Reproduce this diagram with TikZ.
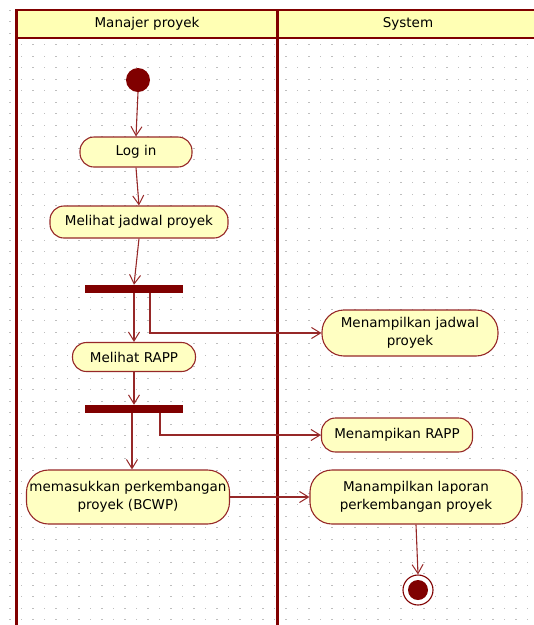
\documentclass[tikz,border=0pt]{standalone}
\usepackage{fontspec}
\setmainfont{DejaVu Sans}
\usetikzlibrary{arrows.meta}
\definecolor{umlred}{RGB}{128,0,0}
\definecolor{flowred}{RGB}{150,40,40}
\definecolor{actfill}{RGB}{255,255,194}
\definecolor{headfill}{RGB}{255,255,180}
\definecolor{griddot}{RGB}{190,190,190}
\begin{document}
\begin{tikzpicture}[x=1pt,y=-1pt,
  action/.style={draw=flowred, line width=1.1pt, fill=actfill, rounded corners=14pt,
    minimum height=30pt, align=center, inner sep=1pt,
    font=\fontsize{13.5}{18}\selectfont},
  bigaction/.style={action, rounded corners=22pt},
  forkbar/.style={fill=umlred, minimum width=98pt, minimum height=8pt, inner sep=0pt},
  flow/.style={draw=flowred, line width=1.1pt,
    -{Straight Barb[length=9pt,width=11pt,line width=1pt]}},
  lane/.style={draw=umlred, line width=3pt},
  headtext/.style={font=\fontsize{13.5}{16}\selectfont, inner sep=0pt}]

\useasboundingbox (0,0) rectangle (534,625);

% dotted drawing grid (11.5 units apart)
\foreach \i in {0,...,46}
  \foreach \j in {0,...,53}
    \fill[griddot] ({10+11.5*\i-0.7},{10.2+11.5*\j-0.7}) rectangle +(1.4,1.4);

% swimlane header band
\fill[headfill] (16,10) rectangle (534,38);
\draw[umlred, line width=2pt] (16,10) -- (534,10);
\draw[umlred, line width=2pt] (16,38) -- (534,38);
\draw[lane] (16,9) -- (16,625);
\draw[lane] (277,9) -- (277,625);
\node[headtext] (laneA) at (147,24) {Manajer proyek};
\node[headtext] (laneB) at (408,24) {System};

% activity nodes
\node[circle, fill=umlred, minimum size=24pt, inner sep=0pt] (start) at (138,80) {};
\node[action, minimum width=112pt] (login) at (136,152) {Log in};
\node[action, minimum width=178pt, minimum height=32pt] (jadwal) at (139,222) {Melihat jadwal proyek};
\node[forkbar] (bar1) at (134,289) {};
\node[bigaction, minimum width=176pt, minimum height=46pt] (mjadwal) at (410,333) {Menampilkan jadwal\\proyek};
\node[action, minimum width=123pt, minimum height=29pt] (rapp) at (134,357) {Melihat RAPP};
\node[forkbar] (bar2) at (134,409) {};
\node[action, minimum width=151pt, minimum height=34pt] (mrapp) at (397,435) {Menampikan RAPP};
\node[bigaction, minimum width=203pt, minimum height=54pt] (bcwp) at (128,497) {memasukkan perkembangan\\proyek (BCWP)};
\node[bigaction, minimum width=212pt, minimum height=54pt] (laporan) at (416,497) {Manampilkan laporan\\perkembangan proyek};
\node[circle, draw=umlred, line width=1.1pt, fill=white, minimum size=30pt, inner sep=0pt] (final) at (418,590) {};
\fill[umlred] (final.center) circle (10pt);

% control flows
\draw[flow] (start.south) -- (login.north);
\draw[flow] (login.south) -- (jadwal.north);
\draw[flow] (jadwal.south) -- (bar1.north);
\draw[flow] (bar1.south) -- (rapp.north);
\draw[flow] ([xshift=16pt]bar1.south) |- (mjadwal.west);
\draw[flow] (rapp.south) -- (bar2.north);
\draw[flow] ([xshift=-2pt]bar2.south) -- ([xshift=-2pt]bar2.south |- bcwp.north);
\draw[flow] ([xshift=26pt]bar2.south) |- (mrapp.west);
\draw[flow] (bcwp.east) -- (laporan.west);
\draw[flow] (laporan.south) -- (final.north);
\end{tikzpicture}
\end{document}
